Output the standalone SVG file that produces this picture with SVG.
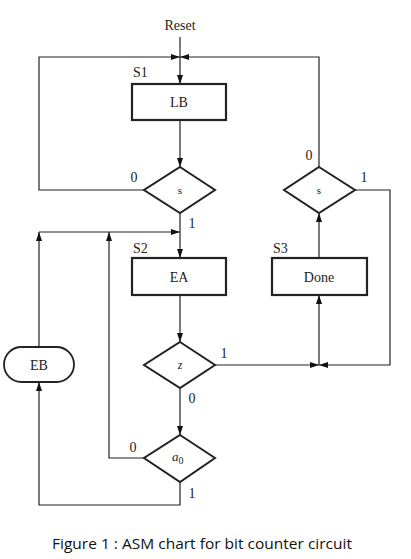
<svg xmlns="http://www.w3.org/2000/svg" width="411" height="559" viewBox="0 0 411 559">
<defs>
<marker id="ah" markerWidth="9" markerHeight="6" refX="9" refY="3" orient="auto" markerUnits="userSpaceOnUse">
<path d="M0,0 L9,3 L0,6 z" fill="#111"/>
</marker>
<style>
.t{font-family:"Liberation Serif","Times New Roman",serif;font-size:14px;fill:#222}
.c{text-anchor:middle}
.box{fill:#fff;stroke:#222;stroke-width:2.2}
.dia{fill:#fff;stroke:#222;stroke-width:2}
.ln{fill:none;stroke:#222;stroke-width:1.2}
</style>
</defs>
<rect width="411" height="559" fill="#fff"/>
<text class="t c" x="180" y="30">Reset</text>
<g id="connectors">
<path class="ln" d="M180,37 V84" marker-end="url(#ah)"/>
<path class="ln" d="M144,190 H39 V57 H180" marker-end="url(#ah)"/>
<path class="ln" d="M319,167 V57 H180" marker-end="url(#ah)"/>
<path class="ln" d="M180,120 V167" marker-end="url(#ah)"/>
<path class="ln" d="M180,213 V258" marker-end="url(#ah)"/>
<path class="ln" d="M39,347 V232" marker-end="url(#ah)"/>
<path class="ln" d="M39,232 H180" marker-end="url(#ah)"/>
<path class="ln" d="M144,458 H109 V232" marker-end="url(#ah)"/>
<path class="ln" d="M180,295 V342" marker-end="url(#ah)"/>
<path class="ln" d="M215,365 H319" marker-end="url(#ah)"/>
<path class="ln" d="M355,190 H390 V365 H319" marker-end="url(#ah)"/>
<path class="ln" d="M319,365 V295" marker-end="url(#ah)"/>
<path class="ln" d="M319,258 V213" marker-end="url(#ah)"/>
<path class="ln" d="M180,388 V435" marker-end="url(#ah)"/>
<path class="ln" d="M180,482 V505 H39 V382" marker-end="url(#ah)"/>
</g>
<g id="S1">
<text class="t" x="133" y="77">S1</text>
<rect class="box" x="132" y="84" width="94" height="36"/>
<text class="t c" x="179" y="107">LB</text>
</g>
<g id="dec_s1">
<polygon class="dia" points="180,167 215,190 180,213 144,190"/>
<text class="t c" x="180" y="194" style="font-size:11px">s</text>
<text class="t c" x="134" y="182">0</text>
<text class="t c" x="192" y="228">1</text>
</g>
<g id="dec_s3">
<polygon class="dia" points="319,167 355,190 319,213 284,190"/>
<text class="t c" x="319" y="194" style="font-size:11px">s</text>
<text class="t c" x="309" y="160">0</text>
<text class="t c" x="364" y="182">1</text>
</g>
<g id="S2">
<text class="t" x="133" y="253">S2</text>
<rect class="box" x="132" y="258" width="94" height="37"/>
<text class="t c" x="179" y="282">EA</text>
</g>
<g id="S3">
<text class="t" x="273" y="253">S3</text>
<rect class="box" x="272" y="258" width="95" height="37"/>
<text class="t c" x="319" y="282">Done</text>
</g>
<g id="dec_z">
<polygon class="dia" points="180,342 215,365 180,388 144,365"/>
<text class="t c" x="180" y="369" style="font-size:12px;font-style:italic">z</text>
<text class="t c" x="224" y="358">1</text>
<text class="t c" x="192" y="403">0</text>
</g>
<g id="EB">
<rect class="box" x="4" y="347" width="70" height="35" rx="17.5" ry="17.5" style="stroke-width:1.8"/>
<text class="t c" x="39" y="370">EB</text>
</g>
<g id="dec_a0">
<polygon class="dia" points="180,435 215,458 180,482 144,458"/>
<text class="t" x="172" y="461" style="font-style:italic;font-size:13px">a<tspan dy="3" style="font-style:normal;font-size:10px">0</tspan></text>
<text class="t c" x="133" y="452">0</text>
<text class="t c" x="192" y="498">1</text>
</g>
<text x="202" y="549" text-anchor="middle" style="font-family:'Open Sans','Liberation Sans',sans-serif;font-size:14px;fill:#111" textLength="300" lengthAdjust="spacingAndGlyphs">Figure 1 : ASM chart for bit counter circuit</text>
</svg>
